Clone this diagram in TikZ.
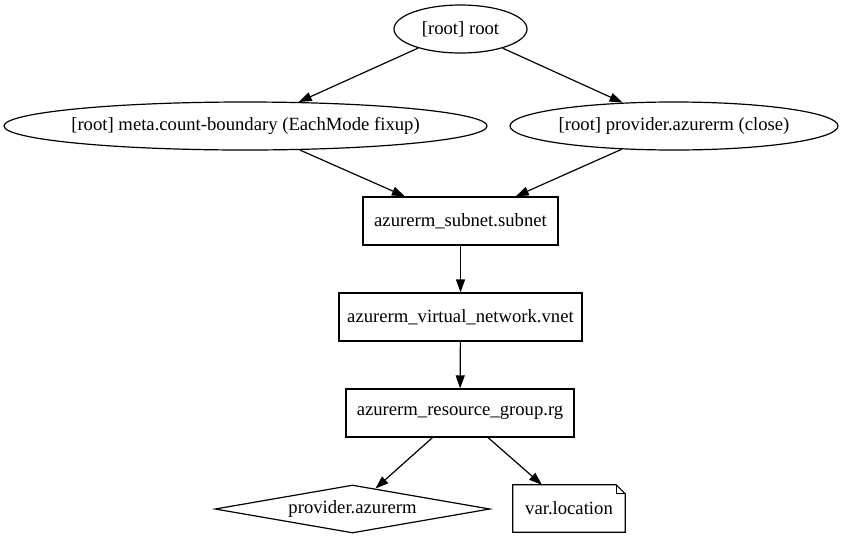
\documentclass[tikz,border=0pt]{standalone}
\usepackage{fontspec}
\setmainfont{Liberation Serif}
\usetikzlibrary{shapes.geometric,arrows.meta}
\begin{document}
\begin{tikzpicture}[x=1pt, y=1pt,
every node/.style={font=\fontsize{18.67}{22}\selectfont, inner sep=0pt},
graphnode/.style={ellipse, draw=black, line width=1.2pt, minimum height=48pt},
resource/.style={rectangle, draw=black, line width=1.2pt, minimum height=48pt},
provider/.style={diamond, draw=black, line width=1.2pt, aspect=5.7, minimum width=275pt, minimum height=48pt},
varnote/.style={rectangle, minimum width=112pt, minimum height=47pt},
dep/.style={-{Triangle[length=13pt, width=9pt]}, line width=1.2pt},
]
\useasboundingbox (0,0) rectangle (846,-539);
\node[graphnode, minimum width=133pt] (root) at (460.5,-29) {[root] root};
\node[graphnode, minimum width=483pt, inner xsep=-3.5pt] (meta) at (245.5,-126) {[root] meta.count-boundary (EachMode fixup)};
\node[graphnode, minimum width=328pt] (close) at (674,-126) {[root] provider.azurerm (close)};
\node[resource, minimum width=195pt] (subnet) at (460.5,-221) {azurerm\_subnet.subnet};
\node[resource, minimum width=243pt] (vnet) at (460.5,-317) {azurerm\_virtual\_network.vnet};
\node[resource, minimum width=228pt] (rg) at (460,-413) {azurerm\_resource\_group.rg};
\node[provider] (azurerm) at (352.5,-509) {provider.azurerm};
\node[varnote] (location) at (569,-508.5) {var.location};
\draw[line width=1.2pt] (location.north west) -- ([xshift=-9pt]location.north east)
  -- ([yshift=-9pt]location.north east) -- (location.south east)
  -- (location.south west) -- cycle;
\draw[line width=1.2pt] ([xshift=-9pt]location.north east)
  -- ([xshift=-9pt, yshift=-9pt]location.north east) -- ([yshift=-9pt]location.north east);
\draw[dep] (root) -- (meta);
\draw[dep] (root) -- (close);
\draw[dep] (meta) -- (subnet);
\draw[dep] (close) -- (subnet);
\draw[dep] (subnet) -- (vnet);
\draw[dep] (vnet) -- (rg);
\draw[dep] (rg) -- (azurerm);
\draw[dep] (rg) -- (location);
\end{tikzpicture}
\end{document}
